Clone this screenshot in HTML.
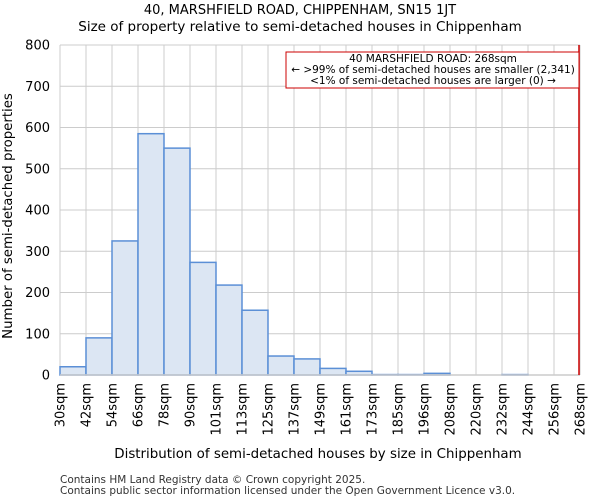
<!DOCTYPE html>
<html><head><meta charset="utf-8"><style>
body{margin:0;background:#fff;font-family:"DejaVu Sans","Liberation Sans",sans-serif}
</style></head><body>
<svg id="c" width="600" height="500" xmlns="http://www.w3.org/2000/svg" font-family="DejaVu Sans, Liberation Sans, sans-serif">
<text x="300" y="14" font-size="13" text-anchor="middle">40, MARSHFIELD ROAD, CHIPPENHAM, SN15 1JT</text>
<text x="300" y="31" font-size="13.5" text-anchor="middle">Size of property relative to semi-detached houses in Chippenham</text>
<g id="grid"></g><g id="bars"></g><g id="axes"></g>
<text transform="translate(12,216) rotate(-90)" font-size="13.3" text-anchor="middle">Number of semi-detached properties</text>
<text x="318" y="458" font-size="13.4" text-anchor="middle">Distribution of semi-detached houses by size in Chippenham</text>
<text x="60" y="483" font-size="10.5" fill="#333">Contains HM Land Registry data © Crown copyright 2025.</text>
<text x="60" y="494" font-size="10.5" fill="#333">Contains public sector information licensed under the Open Government Licence v3.0.</text>
</svg>
<script>
const categories=["30sqm","42sqm","54sqm","66sqm","78sqm","90sqm","101sqm","113sqm","125sqm","137sqm","149sqm","161sqm","173sqm","185sqm","196sqm","208sqm","220sqm","232sqm","244sqm","256sqm","268sqm"];
const counts=[20,90,325,585,550,273,218,157,46,39,16,9,1,1,4,0,0,1,0,0];
const yTicks=[0,100,200,300,400,500,600,700,800];
const markerIndex=20;
const NS="http://www.w3.org/2000/svg";
const X0=60,X1=580,Y0=375,Y1=45,YMAX=800;
const bw=(X1-X0)/(categories.length-1);
const xs=i=>X0+i*bw, ys=v=>Y0-(v/YMAX)*(Y0-Y1);
function mk(t,a,p){const e=document.createElementNS(NS,t);for(const k in a)e.setAttribute(k,a[k]);p.appendChild(e);return e;}
const grid=document.getElementById('grid'),bars=document.getElementById('bars'),axes=document.getElementById('axes');
yTicks.forEach(v=>{
 const l=mk('line',{x1:X0,x2:X1,y1:ys(v),y2:ys(v),stroke:'#ccc'},grid);
 
 
 const t=mk('text',{x:X0-10,y:ys(v)+4.5,'font-size':13,'text-anchor':'end'},axes);t.textContent=v;
 
 
});
categories.forEach((c,i)=>{
 const l=mk('line',{x1:xs(i),x2:xs(i),y1:Y1,y2:Y0,stroke:'#ccc'},grid);
 
 
 const t=mk('text',{transform:`translate(${xs(i)+4.5},${Y0+8}) rotate(-90)`,'font-size':13,'text-anchor':'end'},axes);t.textContent=c;
 
 
});
counts.forEach((v,i)=>{
 const r=mk('rect',{x:xs(i),y:ys(v),width:bw,height:Y0-ys(v),fill:'#dce6f3',stroke:'#5b8fd6','stroke-width':1.5},bars);
 
 
});
const ax=mk('line',{x1:X0,x2:X1,y1:Y0,y2:Y0,stroke:'#ccc','stroke-width':1.5},axes);


const ml=mk('line',{x1:xs(markerIndex)-1,x2:xs(markerIndex)-1,y1:Y1,y2:Y0,stroke:'#c00','stroke-width':1.5},axes);


const g=mk('g',{},axes);


mk('rect',{x:286,y:52,width:293,height:36,fill:'#fff',stroke:'#c00'},g);
[["40 MARSHFIELD ROAD: 268sqm",62],["← >99% of semi-detached houses are smaller (2,341)",73],["<1% of semi-detached houses are larger (0) →",84]].forEach(([s,y])=>{
 const t=mk('text',{x:433,y:y,'font-size':10.5,'text-anchor':'middle'},g);t.textContent=s;
 
 
});
</script>
</body></html>
